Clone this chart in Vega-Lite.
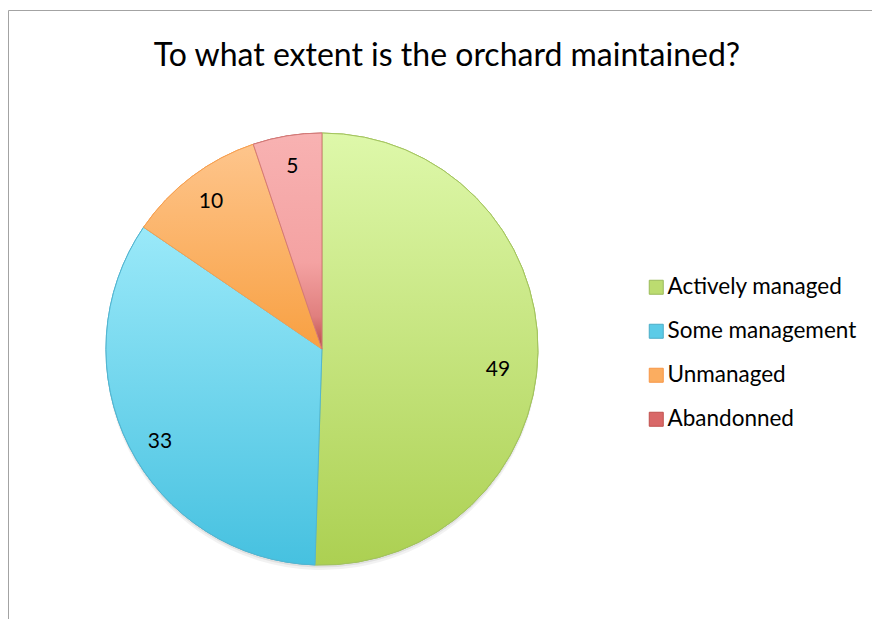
{
  "$schema": "https://vega.github.io/schema/vega-lite/v6.json",
  "width": 864,
  "height": 609,
  "autosize": {"type": "none"},
  "padding": {"left": 8, "top": 10, "right": 0, "bottom": 0},
  "background": "white",
  "config": {
    "view": {"stroke": null},
    "font": "Lato"
  },
  "title": {
    "text": "To what extent is the orchard maintained?",
    "anchor": "middle",
    "offset": -63,
    "dx": 7,
    "fontSize": 32,
    "font": "Lato",
    "fontWeight": "normal",
    "color": "#000000"
  },
  "data": {
    "values": [
      {"category": "Actively managed", "value": 49},
      {"category": "Some management", "value": 33},
      {"category": "Unmanaged", "value": 10},
      {"category": "Abandonned", "value": 5}
    ]
  },
  "encoding": {
    "theta": {"field": "value", "type": "quantitative", "stack": true},
    "order": {"field": "value", "type": "quantitative", "sort": "descending"},
    "x": {"datum": 0.3634, "type": "quantitative", "scale": {"domain": [0, 1]},
      "axis": {"orient": "top", "domain": true, "domainColor": "#a3a3a3", "domainWidth": 1, "ticks": false, "labels": false, "grid": false, "title": null}},
    "y": {"datum": 0.5567, "type": "quantitative", "scale": {"domain": [0, 1], "reverse": true},
      "axis": {"orient": "left", "domain": true, "domainColor": "#a3a3a3", "domainWidth": 1, "ticks": false, "labels": false, "grid": false, "title": null}}
  },
  "layer": [
    {
      "mark": {"type": "arc", "outerRadius": 216, "fill": "#000000", "opacity": 0.05, "yOffset": 5},
      "encoding": {}
    },
    {
      "mark": {"type": "arc", "outerRadius": 216, "fill": "#000000", "opacity": 0.07, "yOffset": 2.5},
      "encoding": {}
    },
    {
      "mark": {"type": "arc", "outerRadius": 216, "strokeWidth": 1},
      "encoding": {
        "fill": {
          "field": "category",
          "type": "nominal",
          "scale": {
            "domain": ["Actively managed", "Some management", "Unmanaged", "Abandonned"],
            "range": ["#bcdc70", "#5ccbe7", "#fbad60", "#d96868"]
          },
          "legend": {
            "orient": "none",
            "legendX": 637,
            "legendY": 266,
            "title": null,
            "symbolType": "square",
            "symbolSize": 196,
            "symbolStrokeWidth": 1,
            "labelFontSize": 22.5,
            "labelFont": "Lato",
            "labelColor": "#000000",
            "labelOffset": 0,
            "labelLimit": 0,
            "rowPadding": 21
          }
        },
        "stroke": {
          "field": "category",
          "type": "nominal",
          "scale": {
            "domain": ["Actively managed", "Some management", "Unmanaged", "Abandonned"],
            "range": ["#9bbb59", "#4bacc6", "#f79646", "#c0504d"]
          },
          "legend": {
            "orient": "none",
            "legendX": 637,
            "legendY": 266,
            "title": null,
            "symbolType": "square",
            "symbolSize": 196,
            "symbolStrokeWidth": 1,
            "labelFontSize": 22.5,
            "labelFont": "Lato",
            "labelColor": "#000000",
            "labelOffset": 0,
            "labelLimit": 0,
            "rowPadding": 21
          }
        }
      }
    },
    {
      "mark": {"type": "arc", "outerRadius": 216, "strokeWidth": 1},
      "encoding": {
        "fill": {
          "condition": [
            {"test": "datum.category === 'Actively managed'", "value": {"gradient": "linear", "x1": 0, "y1": 0, "x2": 0, "y2": 1, "stops": [{"offset": 0, "color": "#def8aa"}, {"offset": 1, "color": "#acd052"}]}},
            {"test": "datum.category === 'Some management'", "value": {"gradient": "linear", "x1": 0, "y1": 0, "x2": 0, "y2": 1, "stops": [{"offset": 0, "color": "#9ae9f9"}, {"offset": 1, "color": "#46c1e0"}]}},
            {"test": "datum.category === 'Unmanaged'", "value": {"gradient": "linear", "x1": 0, "y1": 0, "x2": 0, "y2": 1, "stops": [{"offset": 0, "color": "#fec58c"}, {"offset": 1, "color": "#f8a042"}]}}
          ],
          "value": {"gradient": "linear", "x1": 0, "y1": 0, "x2": 0, "y2": 1, "stops": [{"offset": 0, "color": "#f8b2b2"}, {"offset": 0.6, "color": "#f4a2a2"}, {"offset": 0.85, "color": "#e07f7e"}, {"offset": 1, "color": "#b84a48"}]}
        },
        "stroke": {
          "condition": [
            {"test": "datum.category === 'Actively managed'", "value": "#a3c45e"},
            {"test": "datum.category === 'Some management'", "value": "#52b6d2"},
            {"test": "datum.category === 'Unmanaged'", "value": "#f7a050"}
          ],
          "value": "#d37a78"
        }
      }
    },
    {
      "mark": {"type": "text", "radius": 184, "dx": -8, "dy": 18, "fontSize": 21, "font": "Lato", "align": "center", "baseline": "middle", "color": "#000000"},
      "encoding": {
        "text": {"condition": {"test": "datum.category === 'Actively managed'", "field": "value", "type": "quantitative"}, "value": ""}
      }
    },
    {
      "mark": {"type": "text", "radius": 184, "dx": 2, "dy": 10, "fontSize": 21, "font": "Lato", "align": "center", "baseline": "middle", "color": "#000000"},
      "encoding": {
        "text": {"condition": {"test": "datum.category === 'Some management'", "field": "value", "type": "quantitative"}, "value": ""}
      }
    },
    {
      "mark": {"type": "text", "radius": 184, "fontSize": 21, "font": "Lato", "align": "center", "baseline": "middle", "color": "#000000"},
      "encoding": {
        "text": {"condition": {"test": "datum.category === 'Unmanaged' || datum.category === 'Abandonned'", "field": "value", "type": "quantitative"}, "value": ""}
      }
    }
  ]
}
